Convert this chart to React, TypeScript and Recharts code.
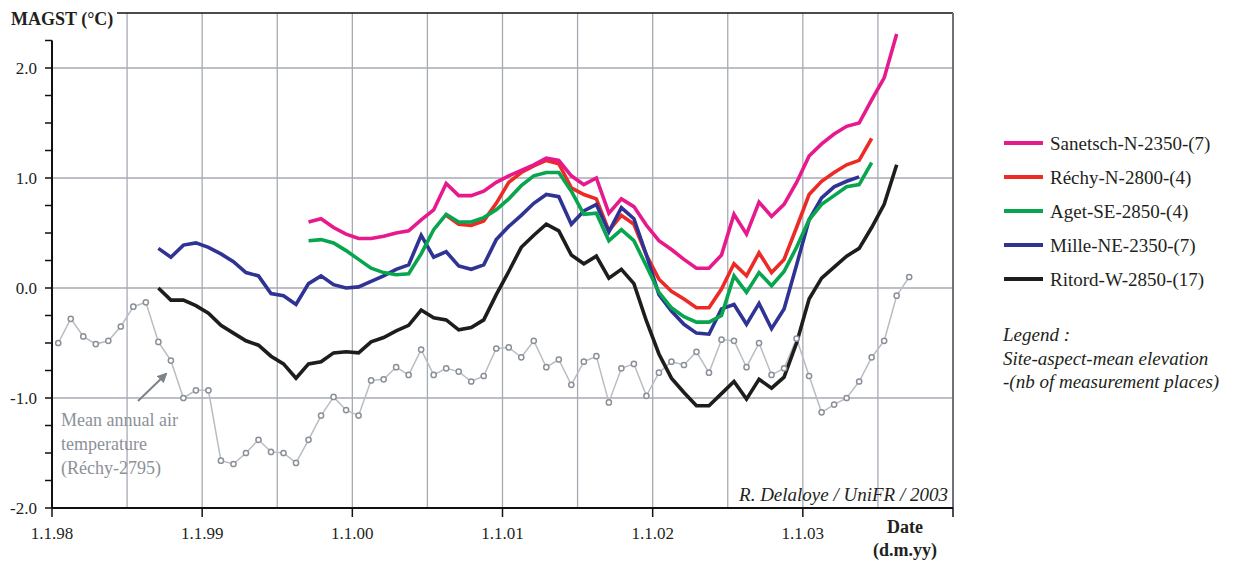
import { Line, LineChart, ReferenceLine, XAxis, YAxis } from 'recharts';

// monthly running means, index 0 = Jan 1998 (plotted mid-month)
const airTemp = [
  -0.5, -0.28, -0.44, -0.51, -0.48, -0.35, -0.17, -0.13, -0.49, -0.66,
  -1.0, -0.93, -0.93, -1.57, -1.6, -1.5, -1.38, -1.49, -1.5, -1.59,
  -1.38, -1.16, -0.99, -1.11, -1.16, -0.84, -0.83, -0.72, -0.79, -0.56,
  -0.79, -0.73, -0.76, -0.85, -0.8, -0.55, -0.54, -0.63, -0.48, -0.72,
  -0.65, -0.88, -0.67, -0.62, -1.04, -0.73, -0.69, -0.98, -0.77, -0.67,
  -0.7, -0.58, -0.77, -0.47, -0.48, -0.72, -0.5, -0.79, -0.73, -0.46,
  -0.8, -1.13, -1.06, -1.0, -0.85, -0.63, -0.48, -0.07, 0.1,
];

const sanetschStart = 20;
const sanetsch = [
  0.6, 0.63, 0.55, 0.49, 0.45, 0.45, 0.47, 0.5, 0.52, 0.62,
  0.71, 0.95, 0.84, 0.84, 0.88, 0.96, 1.02, 1.07, 1.12, 1.18,
  1.16, 1.02, 0.94, 1.0, 0.68, 0.81, 0.74, 0.57, 0.43, 0.35,
  0.26, 0.18, 0.18, 0.3, 0.67, 0.49, 0.78, 0.65, 0.76, 0.96,
  1.2, 1.31, 1.4, 1.47, 1.5, 1.71, 1.91, 2.31,
];

const rechyStart = 31;
const rechy = [
  0.66, 0.58, 0.57, 0.61, 0.77, 0.96, 1.05, 1.11, 1.16, 1.13,
  0.91, 0.85, 0.81, 0.52, 0.66, 0.58, 0.3, 0.08, -0.03, -0.1,
  -0.18, -0.18, -0.01, 0.22, 0.11, 0.32, 0.14, 0.26, 0.55, 0.85,
  0.97, 1.05, 1.12, 1.16, 1.36,
];

const agetStart = 20;
const aget = [
  0.43, 0.44, 0.41, 0.34, 0.26, 0.18, 0.14, 0.12, 0.13, 0.31,
  0.53, 0.67, 0.6, 0.6, 0.64, 0.71, 0.81, 0.93, 1.02, 1.05,
  1.05, 0.88, 0.67, 0.68, 0.43, 0.53, 0.43, 0.2, -0.04, -0.18,
  -0.26, -0.31, -0.31, -0.25, 0.11, -0.04, 0.14, 0.02, 0.15, 0.37,
  0.62, 0.76, 0.84, 0.92, 0.94, 1.14,
];

const milleStart = 8;
const mille = [
  0.36, 0.28, 0.39, 0.41, 0.37, 0.31, 0.24, 0.14, 0.11, -0.05,
  -0.07, -0.15, 0.04, 0.11, 0.03, 0.0, 0.01, 0.06, 0.11, 0.17,
  0.21, 0.48, 0.28, 0.33, 0.2, 0.17, 0.21, 0.44, 0.56, 0.66,
  0.77, 0.85, 0.83, 0.58, 0.7, 0.76, 0.51, 0.73, 0.63, 0.3,
  -0.06, -0.21, -0.33, -0.41, -0.42, -0.19, -0.15, -0.33, -0.14, -0.37,
  -0.19, 0.21, 0.62, 0.82, 0.92, 0.97, 1.01,
];

const ritordStart = 8;
const ritord = [
  0.0, -0.11, -0.11, -0.16, -0.23, -0.34, -0.41, -0.48, -0.52, -0.62,
  -0.69, -0.82, -0.69, -0.67, -0.59, -0.58, -0.59, -0.49, -0.45, -0.39,
  -0.34, -0.2, -0.27, -0.29, -0.38, -0.36, -0.29, -0.06, 0.15, 0.37,
  0.48, 0.58, 0.52, 0.3, 0.22, 0.29, 0.09, 0.17, 0.04, -0.3,
  -0.6, -0.82, -0.95, -1.07, -1.07, -0.96, -0.85, -1.01, -0.83, -0.91,
  -0.81, -0.5, -0.1, 0.09, 0.19, 0.29, 0.36, 0.55, 0.76, 1.12,
];

const xTicks = [0, 12, 24, 36, 48, 60, 72];
const xTickLabels = ['1.1.98', '1.1.99', '1.1.00', '1.1.01', '1.1.02', '1.1.03', ''];
const yTicks = [-2, -1.75, -1.5, -1.25, -1, -0.75, -0.5, -0.25, 0, 0.25, 0.5, 0.75, 1, 1.25, 1.5, 1.75, 2, 2.25];
const gridX = [6, 12, 18, 24, 30, 36, 42, 48, 54, 60, 66];
const gridY = [-1, 0, 1, 2];

const series = [
  { key: 'sanetsch', name: 'Sanetsch-N-2350-(7)', color: '#e6198d' },
  { key: 'rechy', name: 'Réchy-N-2800-(4)', color: '#ec2a26' },
  { key: 'aget', name: 'Aget-SE-2850-(4)', color: '#08a54f' },
  { key: 'mille', name: 'Mille-NE-2350-(7)', color: '#2f3393' },
  { key: 'ritord', name: 'Ritord-W-2850-(17)', color: '#1d1d1b' },
];
const drawOrder = ['ritord', 'rechy', 'mille', 'aget', 'sanetsch'];

const at = (arr: number[], start: number, i: number) =>
  i >= start && i - start < arr.length ? arr[i - start] : null;

const rows = airTemp.map((v, i) => ({
  m: i + 0.5,
  air: v,
  sanetsch: at(sanetsch, sanetschStart, i),
  rechy: at(rechy, rechyStart, i),
  aget: at(aget, agetStart, i),
  mille: at(mille, milleStart, i),
  ritord: at(ritord, ritordStart, i),
}));

const serif = '"Liberation Serif", "Times New Roman", serif';
const gridColor = '#a6abb3';

export default function App() {
  return (
    <div style={{ position: 'absolute', left: 0, top: 0, width: 1238, height: 562, background: '#fff', fontFamily: serif }}>
      <LineChart width={1238} height={562} data={rows} margin={{ top: 13, right: 285, bottom: 0, left: 0 }}>
        <XAxis
          dataKey="m"
          type="number"
          domain={[0, 72]}
          ticks={xTicks}
          interval={0}
          tickFormatter={(v: number) => xTickLabels[xTicks.indexOf(v)] ?? ''}
          height={54}
          axisLine={{ stroke: '#111', strokeWidth: 2 }}
          tickLine={{ stroke: '#111', strokeWidth: 1.5 }}
          tickSize={9}
          tickMargin={10}
          tick={{ fill: '#231f20', fontSize: 17, fontFamily: serif }}
        />
        <YAxis
          type="number"
          domain={[-2, 2.5]}
          ticks={yTicks}
          interval={0}
          width={52}
          axisLine={false}
          tickLine={{ stroke: '#111', strokeWidth: 1.5 }}
          tickSize={7}
          tickMargin={8}
          tickFormatter={(v: number) => (Number.isInteger(v) ? v.toFixed(1) : '')}
          tick={{ fill: '#231f20', fontSize: 17, fontFamily: serif }}
        />
        {gridX.map((x) => (
          <ReferenceLine key={'gx' + x} x={x} stroke={gridColor} strokeWidth={1.3} />
        ))}
        {gridY.map((y) => (
          <ReferenceLine key={'gy' + y} y={y} stroke={gridColor} strokeWidth={1.3} />
        ))}
        <ReferenceLine y={2.5} stroke="#111" strokeWidth={1.5} ifOverflow="visible" />
        <ReferenceLine x={72} stroke="#6e7278" strokeWidth={2} ifOverflow="visible" />
        <ReferenceLine
          segment={[{ x: 0, y: -2 }, { x: 0, y: 2.25 }]}
          stroke="#111"
          strokeWidth={2}
          ifOverflow="visible"
        />
        <Line
          dataKey="air"
          stroke="#b9bdc3"
          strokeWidth={1.5}
          dot={{ r: 2.6, stroke: '#8a9099', strokeWidth: 1.5, fill: '#fff' }}
          isAnimationActive={false}
        />
        {drawOrder.map((k) => {
          const s = series.find((d) => d.key === k)!;
          return (
            <Line
              key={k}
              dataKey={k}
              name={s.name}
              stroke={s.color}
              strokeWidth={3.6}
              dot={false}
              isAnimationActive={false}
            />
          );
        })}
      </LineChart>

      <svg
        width={1238}
        height={562}
        style={{ position: 'absolute', left: 0, top: 0, pointerEvents: 'none' }}
        fontFamily={serif}
      >
        <defs>
          <marker id="arrow" viewBox="0 0 10 10" refX="8" refY="5" markerWidth="5" markerHeight="5" orient="auto">
            <path d="M0,0 L10,5 L0,10 z" fill="#7d838a" />
          </marker>
        </defs>
        <rect x={4} y={2} width={113} height={28} fill="#fff" />
        <text x={11} y={25} fontSize={18} fontWeight="bold" fill="#231f20">
          MAGST (°C)
        </text>

        <line x1={138} y1={401} x2={166} y2={374} stroke="#7d838a" strokeWidth={2} markerEnd="url(#arrow)" />
        <g fill="#8c9198" fontSize={18}>
          <text x={61} y={426}>Mean annual air</text>
          <text x={61} y={450}>temperature</text>
          <text x={61} y={474}>(Réchy-2795)</text>
        </g>

        <text x={948} y={501} fontSize={19} fontStyle="italic" textAnchor="end" fill="#231f20">
          R. Delaloye / UniFR / 2003
        </text>
        <g fontSize={18} fontWeight="bold" fill="#231f20" textAnchor="middle">
          <text x={905} y={533}>Date</text>
          <text x={905} y={556}>(d.m.yy)</text>
        </g>

        {series.map((s, i) => (
          <g key={s.key}>
            <line x1={1004} x2={1043} y1={143 + i * 34} y2={143 + i * 34} stroke={s.color} strokeWidth={4} />
            <text x={1050} y={149.5 + i * 34} fontSize={19} fill="#231f20">
              {s.name}
            </text>
          </g>
        ))}
        <g fontSize={19} fontStyle="italic" fill="#231f20">
          <text x={1003} y={341}>Legend :</text>
          <text x={1003} y={364.5}>Site-aspect-mean elevation</text>
          <text x={1003} y={388}>-(nb of measurement places)</text>
        </g>
      </svg>
    </div>
  );
}
